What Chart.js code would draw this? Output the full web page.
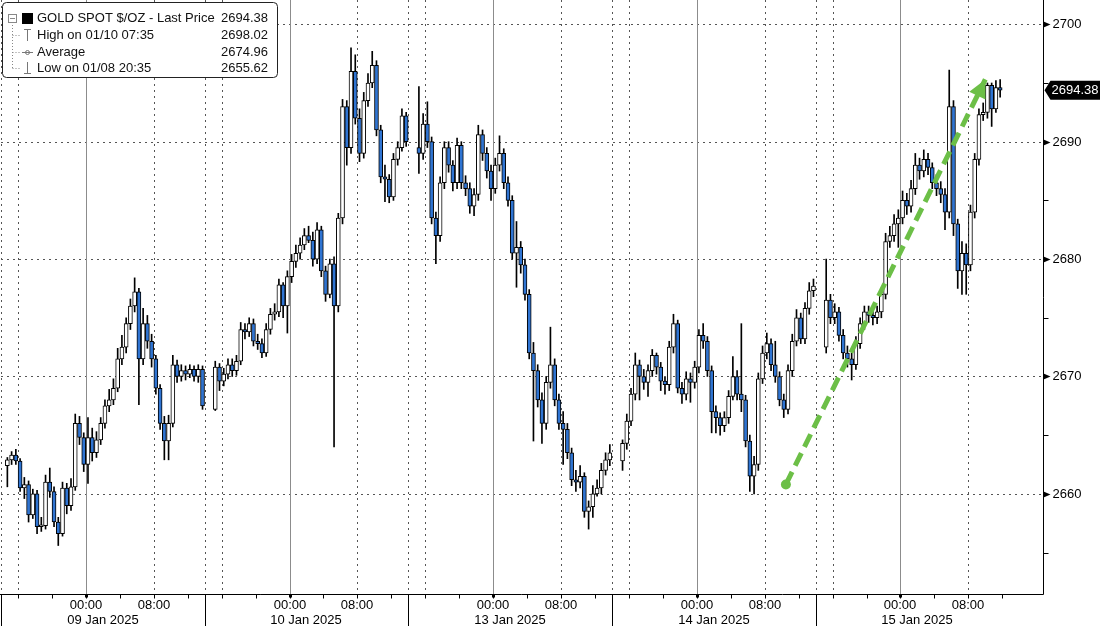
<!DOCTYPE html>
<html>
<head>
<meta charset="utf-8">
<script src="https://cdn.jsdelivr.net/npm/chart.js@4.4.1/dist/chart.umd.min.js"></script>
<style>
  html, body { margin: 0; padding: 0; background: #fff; }
  #wrap { position: relative; width: 1100px; height: 626px; }
</style>
</head>
<body>
<div id="wrap"><canvas id="goldChart"></canvas></div>
<script>
// ── Data (30 min candles, hours counted on the session axis from 08 Jan 14:00) ──
const dayLabels   = ['09 Jan 2025', '10 Jan 2025', '13 Jan 2025', '14 Jan 2025', '15 Jan 2025'];
const dayFirstBar = [0.75, 25.25, 49.25, 73.25, 97.25];
const barsPerDay  = [47, 46, 46, 46, 42];

const opens = [
  2662.4,2662.9,2663.3,2662.8,2660.5,2660.8,2658.2,2660.0,2657.2,2657.3,
  2661.0,2660.2,2657.6,2656.6,2660.5,2659.0,2660.6,2666.0,2664.8,2662.5,
  2664.8,2663.5,2664.6,2666.0,2667.5,2668.0,2669.0,2671.5,2672.5,2674.5,
  2676.0,2677.2,2671.5,2674.5,2673.0,2671.5,2669.0,2666.0,2664.5,2666.0,
  2671.0,2670.0,2670.5,2670.2,2670.6,2670.0,2670.6,
  // 10 Jan
  2667.2,2670.8,2669.6,2670.2,2671.0,2670.5,2671.3,2674.0,2673.8,2674.5,
  2673.0,2672.8,2672.0,2674.0,2675.3,2675.5,2677.8,2676.0,2678.5,2679.8,
  2680.5,2681.2,2682.0,2681.6,2680.0,2682.5,2679.0,2677.0,2679.6,2676.0,
  2683.5,2693.0,2689.5,2696.0,2692.0,2689.0,2693.5,2695.0,2696.5,2691.0,
  2687.0,2686.8,2685.3,2688.5,2689.5,2692.2,
  // 13 Jan
  2689.5,2689.0,2691.5,2690.0,2683.5,2682.0,2686.5,2689.5,2688.0,2686.5,
  2689.7,2686.5,2686.0,2684.5,2685.5,2690.6,2689.0,2687.5,2686.0,2688.0,
  2689.0,2686.5,2685.0,2680.5,2681.0,2679.5,2677.0,2672.0,2670.5,2668.0,
  2666.0,2669.5,2671.0,2668.0,2666.0,2665.5,2663.5,2661.2,2661.0,2661.5,
  2658.5,2658.9,2660.0,2660.5,2662.0,2662.9,
  // 14 Jan
  2662.8,2664.3,2666.2,2668.5,2671.0,2670.0,2669.5,2670.5,2671.8,2670.8,
  2669.6,2669.3,2672.5,2674.5,2669.0,2668.5,2669.8,2669.5,2670.8,2673.5,
  2673.0,2670.5,2667.0,2666.5,2665.8,2666.5,2668.3,2670.0,2668.5,2668.0,
  2664.5,2661.5,2662.5,2669.8,2672.0,2672.8,2671.0,2670.0,2668.0,2667.2,
  2670.5,2673.0,2675.0,2673.2,2675.8,2677.3,
  // 15 Jan
  2672.5,2676.5,2675.0,2675.5,2673.5,2672.0,2671.5,2671.0,2672.8,2674.5,
  2675.5,2675.2,2675.0,2675.5,2677.0,2681.5,2682.0,2683.0,2683.5,2685.0,
  2684.5,2686.0,2688.0,2687.5,2688.5,2687.8,2686.5,2686.0,2685.5,2684.0,
  2693.0,2683.0,2679.0,2680.5,2679.5,2684.0,2688.5,2692.3,2692.5,2694.8,
  2692.8,2694.6
];
const highs = [
  2663.1,2663.6,2663.8,2663.0,2661.4,2661.1,2660.4,2660.3,2658.0,2661.6,
  2662.2,2660.6,2658.0,2661.0,2660.9,2661.3,2666.8,2666.6,2665.2,2666.5,
  2665.6,2665.3,2666.5,2668.0,2668.9,2669.8,2672.4,2673.5,2675.0,2676.6,
  2678.4,2677.5,2675.8,2675.2,2673.6,2671.8,2669.3,2666.6,2666.7,2671.8,
  2671.4,2671.0,2670.9,2671.0,2670.9,2671.0,2670.9,
  // 10 Jan
  2671.3,2671.1,2670.7,2671.5,2671.5,2671.8,2674.6,2674.5,2675.0,2674.9,
  2673.6,2673.2,2674.5,2675.8,2676.2,2678.3,2678.0,2679.0,2680.4,2681.2,
  2681.8,2682.6,2682.8,2682.3,2683.1,2682.8,2679.4,2680.0,2680.2,2683.9,
  2693.6,2693.5,2698.0,2697.4,2692.8,2694.2,2695.8,2697.7,2696.9,2691.4,
  2688.0,2687.2,2689.0,2690.0,2692.8,2692.5,
  // 13 Jan
  2694.7,2692.4,2693.4,2690.4,2684.0,2687.0,2690.0,2690.0,2688.4,2690.3,
  2690.0,2687.1,2686.5,2686.0,2691.4,2691.0,2689.5,2688.0,2688.6,2690.5,
  2689.4,2687.0,2685.4,2683.2,2681.5,2680.0,2677.4,2672.9,2671.0,2668.6,
  2670.0,2674.2,2671.5,2668.5,2667.0,2666.0,2663.9,2662.0,2662.4,2661.8,
  2659.4,2660.7,2661.2,2662.6,2663.5,2664.2,
  // 14 Jan
  2664.6,2666.8,2669.0,2672.0,2671.4,2670.6,2671.0,2672.3,2672.0,2671.2,
  2670.0,2673.0,2675.3,2674.8,2669.5,2670.4,2670.3,2671.3,2674.0,2674.5,
  2673.4,2670.9,2667.5,2666.9,2667.0,2668.8,2671.7,2670.5,2674.5,2668.4,
  2665.0,2663.2,2670.3,2672.6,2673.7,2673.2,2673.0,2670.4,2668.5,2671.0,
  2673.6,2675.7,2675.4,2676.3,2678.0,2678.3,
  // 15 Jan
  2680.0,2677.0,2676.2,2675.9,2674.0,2672.6,2672.0,2673.4,2675.0,2676.0,
  2676.0,2675.7,2676.0,2677.5,2682.2,2682.8,2683.8,2684.2,2685.8,2685.6,
  2686.7,2689.0,2688.6,2689.3,2689.0,2688.2,2687.2,2686.6,2686.0,2696.1,
  2693.5,2683.4,2681.5,2681.3,2684.6,2689.0,2692.8,2693.3,2695.0,2695.0,
  2695.2,2695.3
];
const lows = [
  2660.6,2662.5,2662.5,2660.2,2659.6,2657.6,2657.9,2656.6,2656.8,2657.0,
  2659.7,2657.2,2655.6,2656.4,2658.3,2658.6,2660.3,2664.2,2661.9,2660.9,
  2662.8,2663.1,2664.2,2665.6,2667.0,2667.6,2668.7,2671.0,2672.0,2674.0,
  2675.5,2667.6,2671.0,2672.4,2670.8,2668.5,2665.5,2662.9,2662.9,2665.7,
  2669.5,2669.6,2669.7,2669.9,2669.6,2669.5,2667.2,
  // 10 Jan
  2667.1,2668.8,2669.2,2669.8,2670.0,2670.1,2671.0,2673.2,2673.4,2672.6,
  2672.3,2671.6,2671.7,2673.6,2674.8,2675.1,2675.0,2673.7,2678.0,2679.3,
  2680.0,2680.8,2681.4,2679.4,2679.6,2678.5,2676.4,2676.7,2664.0,2675.5,
  2683.0,2688.0,2689.0,2691.5,2688.3,2688.6,2693.0,2694.6,2690.5,2686.5,
  2684.9,2684.8,2685.0,2688.0,2689.2,2689.6,
  // 13 Jan
  2687.3,2688.5,2689.5,2683.0,2679.6,2681.5,2686.0,2687.4,2685.8,2686.0,
  2686.0,2685.4,2683.9,2683.7,2685.0,2688.4,2686.9,2685.0,2685.6,2687.5,
  2686.0,2684.5,2680.0,2677.6,2678.8,2676.5,2671.5,2664.5,2667.4,2664.3,
  2665.5,2669.0,2667.5,2665.5,2662.5,2663.0,2660.7,2660.2,2660.5,2658.0,
  2657.0,2658.0,2659.8,2660.0,2661.6,2662.4,
  // 14 Jan
  2662.0,2663.8,2665.8,2668.0,2668.0,2668.9,2668.3,2670.0,2670.2,2668.8,
  2668.5,2668.8,2672.0,2668.6,2667.7,2668.0,2667.8,2669.0,2670.3,2672.4,
  2670.0,2665.2,2665.2,2665.0,2665.3,2666.0,2668.0,2668.0,2667.0,2664.0,
  2660.2,2660.0,2662.0,2669.4,2671.5,2670.5,2669.5,2667.5,2666.5,2666.8,
  2670.0,2672.6,2672.8,2672.8,2675.3,2676.8,
  // 15 Jan
  2672.0,2674.5,2674.5,2673.0,2671.5,2670.8,2669.7,2670.6,2672.4,2674.0,
  2674.6,2674.4,2674.5,2675.0,2676.6,2681.0,2681.5,2681.0,2683.0,2683.8,
  2684.0,2685.5,2686.8,2687.0,2687.2,2686.0,2685.4,2684.8,2682.5,2683.5,
  2682.0,2677.5,2677.0,2677.0,2679.0,2683.5,2688.0,2691.8,2692.0,2691.3,
  2692.5,2693.8
];
const closes = [
  2662.9,2663.3,2662.8,2660.5,2660.8,2658.2,2660.0,2657.2,2657.3,2661.0,
  2660.2,2657.6,2656.6,2660.5,2659.0,2660.6,2666.0,2664.8,2662.5,2664.8,
  2663.5,2664.6,2666.0,2667.5,2668.0,2669.0,2671.5,2672.5,2674.5,2676.0,
  2677.2,2671.5,2674.5,2673.0,2671.5,2669.0,2666.0,2664.5,2666.0,2671.0,
  2670.0,2670.5,2670.2,2670.6,2670.0,2670.6,2667.5,
  // 10 Jan
  2670.8,2669.6,2670.2,2671.0,2670.5,2671.3,2674.0,2673.8,2674.5,2673.0,
  2672.8,2672.0,2674.0,2675.3,2675.5,2677.8,2676.0,2678.5,2679.8,2680.5,
  2681.2,2682.0,2681.6,2680.0,2682.5,2679.0,2677.0,2679.6,2676.0,2683.5,
  2693.0,2689.5,2696.0,2692.0,2689.0,2693.5,2695.0,2696.5,2691.0,2687.0,
  2686.8,2685.3,2688.5,2689.5,2692.2,2690.0,
  // 13 Jan
  2689.0,2691.5,2690.0,2683.5,2682.0,2686.5,2689.5,2688.0,2686.5,2689.7,
  2686.5,2686.0,2684.5,2685.5,2690.6,2689.0,2687.5,2686.0,2688.0,2689.0,
  2686.5,2685.0,2680.5,2681.0,2679.5,2677.0,2672.0,2670.5,2668.0,2666.0,
  2669.5,2671.0,2668.0,2666.0,2665.5,2663.5,2661.2,2661.0,2661.5,2658.5,
  2658.9,2660.0,2660.5,2662.0,2662.9,2663.5,
  // 14 Jan
  2664.3,2666.2,2668.5,2671.0,2670.0,2669.5,2670.5,2671.8,2670.8,2669.6,
  2669.3,2672.5,2674.5,2669.0,2668.5,2669.8,2669.5,2670.8,2673.5,2673.0,
  2670.5,2667.0,2666.5,2665.8,2666.5,2668.3,2670.0,2668.5,2668.0,2664.5,
  2661.5,2662.5,2669.8,2672.0,2672.8,2671.0,2670.0,2668.0,2667.2,2670.5,
  2673.0,2675.0,2673.2,2675.8,2677.3,2677.7,
  // 15 Jan
  2676.5,2675.0,2675.5,2673.5,2672.0,2671.5,2671.0,2672.8,2674.5,2675.5,
  2675.2,2675.0,2675.5,2677.0,2681.5,2682.0,2683.0,2683.5,2685.0,2684.5,
  2686.0,2688.0,2687.5,2688.5,2687.8,2686.5,2686.0,2685.5,2684.0,2693.0,
  2683.0,2679.0,2680.5,2679.5,2684.0,2688.5,2692.3,2692.5,2694.8,2692.8,
  2694.6,2694.38
];

const yMajor = [2660, 2670, 2680, 2690, 2700];
const yMinor = [2655, 2665, 2675, 2685, 2695];
const timeTickHours  = [10, 18];           // hour offset inside a session
const timeTickLabels = ['00:00', '08:00'];
const minorTickHours = [2, 6, 10, 14, 18, 22];
const dottedHours    = [0, 2, 18];
const solidHours     = [10];
const dateLabelHour  = 12;

const lastPrice = 2694.38;
const legendRows = [
  ['GOLD SPOT $/OZ - Last Price', '2694.38'],
  ['High on 01/10 07:35', '2698.02'],
  ['Average', '2674.96'],
  ['Low on 01/08 20:35', '2655.62'],
];
// green trend arrow drawn on the picture
const trendX = [92.5, 116.0];
const trendY = [2660.8, 2695.3];

// ── Build ─────────────────────────────────────────────────────────────────
const FONT = '"Liberation Sans", Arial, sans-serif';
const UP = '#ffffff', DOWN = '#2f74d2', GREEN = '#6cbf47';

const barHours = [];
dayFirstBar.forEach((h0, d) => { for (let j = 0; j < barsPerDay[d]; j++) barHours.push(h0 + 0.5 * j); });
const wickData = barHours.map((h, i) => ({ x: h, y: [lows[i], highs[i]] }));
const bodyData = barHours.map((h, i) => ({ x: h, y: [opens[i], closes[i]] }));
const bodyFill = barHours.map((h, i) => closes[i] >= opens[i] ? UP : DOWN);
const trendData = trendX.map((x, i) => ({ x, y: trendY[i] }));

function seg(ctx, x1, y1, x2, y2) { ctx.beginPath(); ctx.moveTo(x1, y1); ctx.lineTo(x2, y2); ctx.stroke(); }
const snap = v => Math.round(v) + 0.5;

const bbgPlugin = {
  id: 'bbg',
  beforeDatasetsDraw(chart) {
    const { ctx, chartArea: a, scales: { x, y } } = chart;
    ctx.save();
    ctx.lineWidth = 1;
    ctx.strokeStyle = '#555';
    ctx.setLineDash([2, 4]);
    yMajor.forEach(v => { const py = snap(y.getPixelForValue(v)); seg(ctx, a.left, py, a.right, py); });
    dayLabels.forEach((_, d) => dottedHours.forEach(o => {
      const h = 24 * d + o; if (h > x.max) return;
      const px = snap(x.getPixelForValue(h)); seg(ctx, px, a.top, px, a.bottom);
    }));
    ctx.setLineDash([]);
    ctx.strokeStyle = '#8c8c8c';
    dayLabels.forEach((_, d) => solidHours.forEach(o => {
      const px = snap(x.getPixelForValue(24 * d + o)); seg(ctx, px, a.top, px, a.bottom);
    }));
    ctx.restore();
  },
  afterDatasetsDraw(chart) {
    // arrow head at the end of the trend line
    const { ctx } = chart;
    const pts = chart.getDatasetMeta(2).data;
    const p0 = pts[0], p1 = pts[1];
    const ang = Math.atan2(p1.y - p0.y, p1.x - p0.x);
    const len = 18, half = 9;
    const bx = p1.x - len * Math.cos(ang), by = p1.y - len * Math.sin(ang);
    ctx.save();
    ctx.fillStyle = GREEN;
    ctx.beginPath();
    ctx.moveTo(p1.x, p1.y);
    ctx.lineTo(bx + half * Math.sin(ang), by - half * Math.cos(ang));
    ctx.lineTo(bx - half * Math.sin(ang), by + half * Math.cos(ang));
    ctx.closePath(); ctx.fill();
    ctx.restore();
  },
  afterDraw(chart) {
    const { ctx, chartArea: a, scales: { x, y } } = chart;
    const H = chart.height, W = chart.width;
    ctx.save();
    ctx.strokeStyle = '#000'; ctx.fillStyle = '#000'; ctx.lineWidth = 1;
    const bottom = snap(a.bottom), right = snap(a.right);
    seg(ctx, 0, bottom, right, bottom);
    seg(ctx, right, 0, right, bottom);

    // x ticks, session separators, labels
    ctx.font = `13px ${FONT}`;
    ctx.textAlign = 'center'; ctx.textBaseline = 'middle';
    dayLabels.forEach((lab, d) => {
      const sx = snap(x.getPixelForValue(24 * d));
      seg(ctx, sx, bottom, sx, H);
      minorTickHours.forEach(o => {
        const h = 24 * d + o; if (h > x.max) return;
        const px = snap(x.getPixelForValue(h)); seg(ctx, px, bottom, px, bottom + 4);
      });
      const mx = Math.round(x.getPixelForValue(24 * d + 10));
      ctx.fillRect(mx - 1, bottom, 3, 3);
      timeTickHours.forEach((o, k) => ctx.fillText(timeTickLabels[k], Math.round(x.getPixelForValue(24 * d + o)), 605));
      ctx.fillText(lab, Math.round(x.getPixelForValue(24 * d + dateLabelHour)), 620);
    });

    // y ticks and labels
    ctx.textAlign = 'left';
    yMinor.forEach(v => { const py = snap(y.getPixelForValue(v)); seg(ctx, right, py, right + 5, py); });
    yMajor.forEach(v => {
      const py = Math.round(y.getPixelForValue(v)) + 0.5;
      ctx.beginPath(); ctx.moveTo(right, py - 3); ctx.lineTo(right + 7, py); ctx.lineTo(right, py + 3); ctx.closePath(); ctx.fill();
      ctx.fillText(String(v), right + 9, py);
    });

    // last price tag
    const ly = y.getPixelForValue(lastPrice);
    ctx.beginPath();
    ctx.moveTo(right + 1, ly); ctx.lineTo(right + 7, ly - 9.5); ctx.lineTo(W, ly - 9.5);
    ctx.lineTo(W, ly + 9.5); ctx.lineTo(right + 7, ly + 9.5); ctx.closePath(); ctx.fill();
    ctx.fillStyle = '#fff';
    ctx.fillText(lastPrice.toFixed(2), right + 8, ly + 0.5);

    // legend box
    ctx.fillStyle = '#fff'; ctx.strokeStyle = '#222';
    ctx.beginPath(); ctx.roundRect(2.5, 2.5, 275, 75, 4); ctx.fill(); ctx.stroke();
    const rowY = [18, 35, 52, 68];
    ctx.strokeStyle = '#888'; ctx.setLineDash([1, 2]);
    seg(ctx, 12.5, 22, 12.5, rowY[3]);
    rowY.slice(1).forEach(ry => seg(ctx, 12.5, ry + 0.5, 20, ry + 0.5));
    ctx.setLineDash([]);
    ctx.strokeRect(8.5, 14.5, 8, 8); seg(ctx, 10, 18.5, 15, 18.5);
    ctx.fillStyle = '#000'; ctx.fillRect(22, 13, 11, 11);
    ctx.strokeStyle = '#777';
    seg(ctx, 24, 29.5, 31, 29.5); seg(ctx, 27.5, 29.5, 27.5, 41);
    seg(ctx, 22, 52.5, 33, 52.5); ctx.beginPath(); ctx.arc(27.5, 52.5, 2, 0, Math.PI * 2); ctx.stroke();
    seg(ctx, 27.5, 62, 27.5, 73.5); seg(ctx, 24, 73.5, 31, 73.5);
    ctx.fillStyle = '#111'; ctx.font = `13px ${FONT}`;
    legendRows.forEach(([t, v], i) => {
      ctx.textAlign = 'left'; ctx.fillText(t, 37, rowY[i]);
      ctx.textAlign = 'right'; ctx.fillText(v, 268, rowY[i]);
    });
    ctx.restore();
  }
};

new Chart(document.getElementById('goldChart'), {
  data: {
    datasets: [
      { type: 'bar', label: 'range', data: wickData, backgroundColor: '#000', borderWidth: 0,
        barThickness: 1, grouped: false, order: 3 },
      { type: 'bar', label: 'body', data: bodyData, backgroundColor: bodyFill, borderColor: '#000',
        borderWidth: 1, borderSkipped: false, barThickness: 4, minBarLength: 2, grouped: false, order: 2 },
      { type: 'line', label: 'trend', data: trendData, borderColor: GREEN, borderWidth: 5,
        borderDash: [14, 7], borderCapStyle: 'butt', pointRadius: [5, 0], pointBackgroundColor: GREEN,
        pointBorderWidth: 0, order: 1 },
    ]
  },
  options: {
    responsive: true, maintainAspectRatio: false, animation: false, devicePixelRatio: 1,
    layout: { autoPadding: false, padding: { left: 1, right: 57, top: 0, bottom: 32 } },
    plugins: { legend: { display: false }, tooltip: { enabled: false } },
    scales: {
      x: { type: 'linear', min: 0, max: 122.8, display: false, offset: false },
      y: { type: 'linear', min: 2651.47, max: 2702.07, display: false },
    },
  },
  plugins: [bbgPlugin],
});
</script>
</body>
</html>
